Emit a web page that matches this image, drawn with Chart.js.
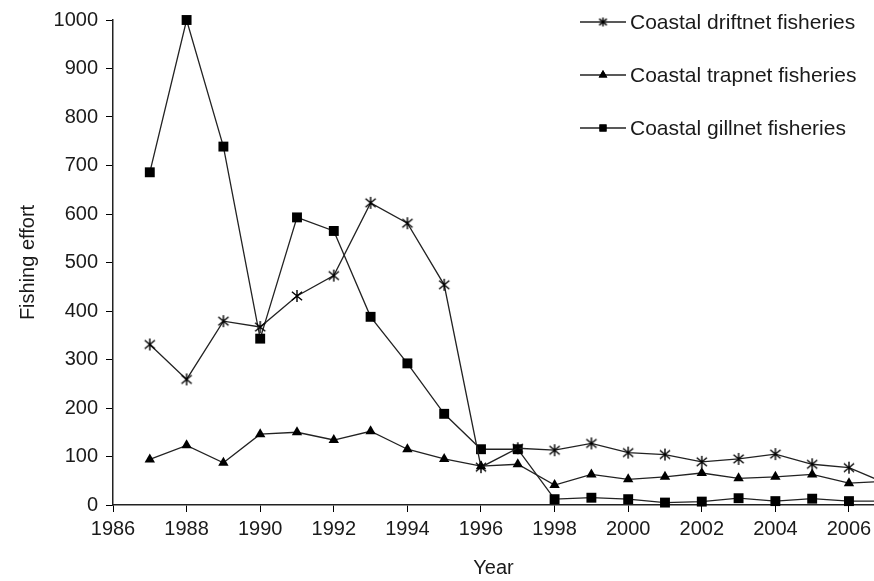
<!DOCTYPE html>
<html>
<head>
<meta charset="utf-8">
<script src="https://cdn.jsdelivr.net/npm/chart.js@4.4.0/dist/chart.umd.min.js"></script>
<style>
  body { margin: 0; background: #fff; }
</style>
</head>
<body>
<canvas id="lineChart" width="874" height="581"></canvas>
<script>
  // years on the x axis (2007 runs off the right edge of the plot)
  const years = [1987, 1988, 1989, 1990, 1991, 1992, 1993, 1994, 1995, 1996, 1997,
                 1998, 1999, 2000, 2001, 2002, 2003, 2004, 2005, 2006, 2007];

  const driftnet = [331, 259, 379, 367, 431, 473, 623, 581, 454, 78, 117,
                    113, 127, 108, 104, 89, 95, 105, 84, 77, 45];
  const trapnet = [94, 123, 87, 146, 150, 134, 152, 115, 95, 80, 84,
                   41, 63, 53, 58, 66, 55, 58, 63, 45, 49];
  const gillnet = [686, 1000, 739, 343, 593, 565, 388, 292, 188, 115, 115,
                   12, 15, 12, 5, 7, 14, 8, 13, 8, 8];

  const xTicks = [1986, 1988, 1990, 1992, 1994, 1996, 1998, 2000, 2002, 2004, 2006];
  const yTicks = [0, 100, 200, 300, 400, 500, 600, 700, 800, 900, 1000];

  const labels = ['Coastal driftnet fisheries', 'Coastal trapnet fisheries', 'Coastal gillnet fisheries'];

  const FONT = 'Liberation Sans, Arial, sans-serif';
  const INK = '#1a1a1a';

  // asterisk marker: vertical bar + X
  function makeAsterisk(size) {
    const c = document.createElement('canvas');
    c.width = size; c.height = size;
    const g = c.getContext('2d');
    const m = size / 2, r = size / 2 - 1;
    g.strokeStyle = '#000';
    g.lineWidth = 1.4;
    g.beginPath();
    g.moveTo(m, m - r); g.lineTo(m, m + r);
    g.moveTo(m - r * 0.85, m - r * 0.7); g.lineTo(m + r * 0.85, m + r * 0.7);
    g.moveTo(m - r * 0.85, m + r * 0.7); g.lineTo(m + r * 0.85, m - r * 0.7);
    g.stroke();
    return c;
  }
  const asterisk = makeAsterisk(14);
  const smallAsterisk = makeAsterisk(11);

  const toPoints = arr => arr.map((v, i) => ({ x: years[i], y: v }));

  const common = {
    borderColor: '#222',
    backgroundColor: '#000',
    borderWidth: 1.3,
    pointBorderColor: '#000',
    pointBackgroundColor: '#000',
    pointBorderWidth: 0,
    tension: 0,
    clip: false
  };

  const data = {
    datasets: [
      Object.assign({ label: labels[0], data: toPoints(driftnet), pointStyle: asterisk, pointRadius: 7 }, common),
      Object.assign({ label: labels[1], data: toPoints(trapnet), pointStyle: 'triangle', pointRadius: 6 }, common),
      Object.assign({ label: labels[2], data: toPoints(gillnet), pointStyle: 'rect', pointRadius: 7 }, common)
    ]
  };

  // the plot runs right up to the canvas edge, like the original figure
  const fullWidth = {
    id: 'fullWidth',
    afterLayout(chart) {
      const x = chart.scales.x;
      x.right = chart.width;
      x.width = x.right - x.left;
      x.configure();
      chart.chartArea.right = chart.width;
      chart.chartArea.width = chart.width - chart.chartArea.left;
    }
  };

  // legend drawn at the top right, inside the plot
  const legendPlugin = {
    id: 'sideLegend',
    afterDraw(chart) {
      const ctx = chart.ctx;
      const rows = [22, 75, 128];
      ctx.save();
      chart.data.datasets.forEach((ds, i) => {
        const y = rows[i];
        ctx.strokeStyle = '#222';
        ctx.lineWidth = 1.3;
        ctx.beginPath();
        ctx.moveTo(580, y); ctx.lineTo(626, y);
        ctx.stroke();
        ctx.fillStyle = '#000';
        Chart.helpers.drawPoint(ctx, { pointStyle: i === 0 ? smallAsterisk : ds.pointStyle, radius: 5, borderWidth: 0 }, 603, y);
        if (i !== 0) ctx.fill();
        ctx.fillStyle = INK;
        ctx.font = '21px ' + FONT;
        ctx.textBaseline = 'middle';
        ctx.textAlign = 'left';
        ctx.fillText(ds.label, 630, y + 1);
      });
      ctx.restore();
    }
  };

  const config = {
    type: 'line',
    data: data,
    options: {
      responsive: false,
      animation: false,
      layout: { padding: { top: 19, left: 0, right: 0, bottom: 0 } },
      plugins: { legend: { display: false }, tooltip: { enabled: false } },
      scales: {
        x: {
          type: 'linear',
          min: 1986,
          max: 2006.68,
          afterBuildTicks: s => { s.ticks = xTicks.map(v => ({ value: v })); },
          afterFit: s => { s.height = 76; },
          grid: { drawOnChartArea: false, drawTicks: true, tickLength: 7, color: '#000' },
          border: { display: true, color: '#222', width: 1.5 },
          ticks: { color: INK, font: { family: FONT, size: 20 }, padding: 5, maxRotation: 0, callback: v => String(v) },
          title: { display: true, text: 'Year', color: INK, font: { family: FONT, size: 20 }, padding: { top: 8, bottom: 1 } }
        },
        y: {
          min: 0,
          max: 1000,
          afterBuildTicks: s => { s.ticks = yTicks.map(v => ({ value: v })); },
          afterFit: s => { s.width = 113; },
          grid: { drawOnChartArea: false, drawTicks: true, tickLength: 7, color: '#000' },
          border: { display: true, color: '#222', width: 1.5 },
          ticks: { color: INK, font: { family: FONT, size: 20 }, padding: 8, callback: v => String(v) },
          title: { display: true, text: 'Fishing effort', color: INK, font: { family: FONT, size: 20 }, padding: { top: 16, bottom: 4 } }
        }
      }
    },
    plugins: [fullWidth, legendPlugin]
  };

  const lineChart = new Chart(
    document.getElementById('lineChart'),
    config
  );
</script>
</body>
</html>
